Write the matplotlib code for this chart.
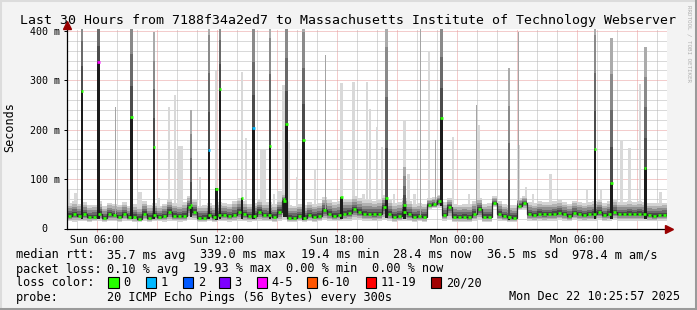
import numpy as np
import matplotlib
matplotlib.use("Agg")
import matplotlib.pyplot as plt
from matplotlib.patches import Rectangle

# ---------------- data ----------------
start_hour = 4.5          # Sun 04:30 (hours since Sun 00:00)
end_hour = 34.5
bin_hours = 0.25          # 15-minute bins

median_ms = [26, 29, 26, 29, 24, 24, 30, 22, 29, 27,
             24, 29, 23, 24, 20, 30, 22, 27, 23, 26,
             34, 26, 25, 26, 44, 34, 22, 22, 27, 23,
             27, 27, 25, 27, 34, 29, 25, 26, 34, 27,
             27, 24, 34, 55, 22, 22, 25, 22, 27, 24,
             26, 37, 30, 26, 27, 30, 32, 39, 34, 30,
             29, 29, 29, 44, 30, 24, 26, 34, 29, 24,
             25, 24, 47, 49, 55, 27, 44, 24, 24, 24,
             23, 30, 39, 24, 24, 51, 30, 25, 23, 22,
             46, 51, 29, 27, 30, 29, 29, 30, 32, 29,
             26, 32, 29, 27, 29, 30, 34, 27, 30, 34,
             29, 29, 30, 29, 30, 29, 27, 26, 27, 28]

smoke_lo_ms = [15, 14, 16, 15, 14, 15, 16, 14, 15, 15,
               14, 16, 15, 14, 13, 16, 14, 15, 15, 14,
               16, 15, 14, 15, 20, 17, 14, 14, 15, 14,
               15, 15, 14, 15, 16, 15, 14, 15, 16, 15,
               15, 14, 16, 20, 13, 13, 15, 14, 15, 14,
               15, 17, 16, 15, 15, 16, 16, 18, 17, 16,
               16, 15, 16, 18, 16, 14, 15, 16, 15, 14,
               15, 14, 40, 41, 42, 16, 20, 14, 14, 14,
               14, 16, 18, 14, 14, 44, 16, 15, 14, 14,
               38, 40, 16, 15, 16, 15, 16, 16, 17, 16,
               15, 17, 16, 15, 16, 16, 17, 15, 16, 17,
               16, 16, 16, 16, 16, 16, 15, 15, 16, 16]

smoke_hi_ms = [52, 56, 50, 54, 47, 48, 55, 45, 52, 50,
               48, 54, 46, 49, 44, 56, 47, 52, 46, 50,
               60, 52, 50, 54, 66, 60, 46, 47, 52, 48,
               53, 52, 50, 55, 62, 55, 50, 52, 60, 54,
               53, 49, 60, 72, 47, 46, 50, 47, 54, 50,
               52, 64, 58, 53, 56, 60, 60, 65, 62, 58,
               58, 56, 58, 68, 57, 52, 54, 62, 56, 50,
               52, 50, 62, 64, 68, 54, 62, 50, 48, 50,
               50, 56, 62, 50, 52, 66, 56, 50, 48, 47,
               62, 66, 54, 52, 55, 54, 54, 55, 57, 54,
               50, 56, 54, 52, 54, 55, 58, 52, 55, 58,
               54, 54, 55, 54, 55, 54, 52, 51, 52, 52]

# tall spikes: time (h), median (ms), highest ping (ms), loss bucket
spike_hours = [5.25, 6.07, 7.73, 8.85, 10.70, 11.60, 11.97, 12.15, 13.25, 13.82, 14.65,
               15.35, 15.48, 16.33, 18.23, 20.49, 21.37, 23.24, 26.60, 30.89, 31.73, 33.41]
spike_median_ms = [278, 337, 226, 165, 47, 158, 81, 283, 61, 204, 167,
                   60, 212, 179, 64, 62, 48, 224, 24, 160, 93, 123]
spike_top_ms = [480, 470, 480, 398, 239, 470, 81, 480, 61, 470, 460,
                60, 480, 470, 64, 470, 125, 470, 324, 470, 385, 368]
spike_loss = ["0", "4-5", "0", "0", "0", "1", "0", "0", "0", "1", "0",
              "0", "0", "0", "0", "0", "0", "0", "0", "0", "0", "0"]

# faint smoke spikes (single high pings)
light_hours = [4.60, 4.92, 8.15, 9.08, 9.60, 9.90, 10.15, 11.15, 11.95, 13.25, 13.45,
               14.30, 14.85, 15.10, 15.30, 15.60, 16.00, 16.90, 18.23, 18.82, 19.30,
               19.49, 19.65, 20.00, 20.25, 20.85, 21.37, 21.55, 21.87, 22.60, 23.80,
               24.60, 25.08, 27.05, 27.45, 27.80, 28.68, 30.50, 31.20, 32.20, 32.60,
               33.13, 34.15]
light_top_ms = [78, 72, 74, 61, 246, 270, 168, 104, 320, 317, 183,
                160, 70, 75, 290, 175, 104, 118, 294, 297, 70,
                297, 243, 206, 165, 70, 219, 110, 70, 357, 185,
                70, 209, 169, 84, 70, 111, 80, 78, 179, 163,
                293, 74]
light_width_h = [0.12, 0.12, 0.20, 0.12, 0.10, 0.08, 0.25, 0.10, 0.10, 0.12, 0.12,
                 0.30, 0.12, 0.25, 0.15, 0.12, 0.12, 0.12, 0.12, 0.12, 0.15,
                 0.12, 0.12, 0.10, 0.10, 0.12, 0.12, 0.15, 0.12, 0.12, 0.10,
                 0.12, 0.12, 0.15, 0.12, 0.12, 0.12, 0.12, 0.12, 0.15, 0.15,
                 0.10, 0.15]

# thin mid-grey spikes
thin_hours = [6.92, 17.40, 22.15, 22.90, 24.97, 27.05]
thin_top_ms = [246, 351, 440, 179, 250, 398]

xtick_hours = [6, 12, 18, 24, 30]
xtick_labels = ["Sun 06:00", "Sun 12:00", "Sun 18:00", "Mon 00:00", "Mon 06:00"]
ytick_ms = [0, 100, 200, 300, 400]
ytick_labels = ["0  ", "100 m", "200 m", "300 m", "400 m"]

loss_labels = ["0", "1", "2", "3", "4-5", "6-10", "11-19", "20/20"]
loss_colors = ["#26ff00", "#00b8ff", "#0059ff", "#7e00ff", "#ff00ff", "#ff5500", "#ff0000", "#a10000"]

title = "Last 30 Hours from 7188f34a2ed7 to Massachusetts Institute of Technology Webserver"
stat_rows = [
    [("median rtt:", 16), ("35.7 ms avg", 107), ("339.0 ms max", 200), ("19.4 ms min", 301),
     ("28.4 ms now", 393), ("36.5 ms sd", 487), ("978.4 m am/s", 572)],
    [("packet loss:", 16), ("0.10 % avg", 107), ("19.93 % max", 193), ("0.00 % min", 286),
     ("0.00 % now", 372)],
]
probe_text = "20 ICMP Echo Pings (56 Bytes) every 300s"
date_text = "Mon Dec 22 10:25:57 2025"

# ---------------- drawing ----------------
W, H, DPI = 697, 310, 100
MONO = "DejaVu Sans Mono"
BG = "#f3f3f3"

fig = plt.figure(figsize=(W / DPI, H / DPI), dpi=DPI, facecolor=BG)


def fx(px):
    return px / W


def fy(py):
    return 1 - py / H


ax_left, ax_right, ax_bot, ax_top = 67, 667, 228.5, 28.5
ax = fig.add_axes([fx(ax_left), fy(ax_bot), (ax_right - ax_left) / W, (ax_bot - ax_top) / H])
ax.set_facecolor("white")
ax.set_xlim(start_hour, end_hour)
ax.set_ylim(0, 405)

# grid
grid_grey = "#b4b4b4"
grid_red = "#e89a9a"
dots = (0, (1, 1))
for h in range(5, 35):
    c = grid_red if h % 3 == 0 else grid_grey
    ax.axvline(h, color=c, lw=0.72, ls=dots, zorder=1)
for v in range(20, 405, 20):
    c = grid_red if v % 100 == 0 else grid_grey
    ax.axhline(v, color=c, lw=0.72, ls=dots, zorder=1)

n = len(median_ms)
edges = start_hour + bin_hours * np.arange(n + 1)
med = np.array(median_ms, float)
lo = np.array(smoke_lo_ms, float)
hi = np.array(smoke_hi_ms, float)

# faint spikes
for t, top, w in zip(light_hours, light_top_ms, light_width_h):
    i = min(int((t - start_hour) / bin_hours), n - 1)
    ax.bar(t, top - lo[i], bottom=lo[i], width=w, color="#d9d9d9", lw=0, zorder=2)

# smoke layers around the median
fracs = [1.0, 0.78, 0.56, 0.36, 0.18]
shades = ["#d4d4d4", "#b2b2b2", "#8e8e8e", "#6a6a6a", "#484848"]
for f, c in zip(fracs, shades):
    bot = med - (med - lo) * f
    top = med + (hi - med) * f
    ax.bar(edges[:-1], top - bot, bottom=bot, width=bin_hours, align="edge",
           color=c, lw=0, zorder=3)

# thin grey spikes
for t, top in zip(thin_hours, thin_top_ms):
    i = min(int((t - start_hour) / bin_hours), n - 1)
    ax.bar(t, top - med[i], bottom=med[i], width=0.05, color="#a4a4a4", lw=0, zorder=3.5)

# median connectors + green median
ax.stairs(med, edges, baseline=None, color="#2a2a2a", lw=0.9, zorder=5)
ax.hlines(med, edges[:-1] + 0.035, edges[1:] - 0.035, colors=loss_colors[0], lw=1.9, zorder=7)

# tall spikes
grad = ["#4c4c4c", "#6a6a6a", "#8a8a8a", "#ababab"]
loss_map = dict(zip(loss_labels, loss_colors))
sw = 0.13
for t, m, top, loss in zip(spike_hours, spike_median_ms, spike_top_ms, spike_loss):
    i = min(int((t - start_hour) / bin_hours), n - 1)
    base = lo[i] + 4
    ax.bar(t, m - base, bottom=base, width=sw, color="#1c1c1c", lw=0, zorder=6)
    if top > m:
        seg = (top - m) / len(grad)
        for k, c in enumerate(grad):
            ax.bar(t, seg, bottom=m + k * seg, width=sw, color=c, lw=0, zorder=6)
    ax.hlines(m, t - sw / 2, t + sw / 2, colors=loss_map[loss], lw=1.9, zorder=8)

# axes styling
for s in ["top", "right"]:
    ax.spines[s].set_visible(False)
for s in ["left", "bottom"]:
    ax.spines[s].set_color("black")
    ax.spines[s].set_linewidth(0.9)
    ax.spines[s].set_zorder(9)

ax.set_xticks(xtick_hours)
ax.set_xticklabels(xtick_labels, family=MONO, fontsize=7.2)
ax.set_yticks(ytick_ms)
ax.set_yticklabels(ytick_labels, family=MONO, fontsize=7.2)
ax.tick_params(axis="x", length=2.2, width=0.7, color=grid_red, pad=2.2)
ax.tick_params(axis="y", length=2.0, width=0.7, color="black", pad=3.0)
for lab in ax.get_yticklabels():
    lab.set_verticalalignment("center_baseline")

# arrows
ax.plot([end_hour + 0.12], [0], marker=">", ms=5.5, color="#990000", clip_on=False, zorder=10)
ax.plot([start_hour], [405 + 7], marker="^", ms=5.5, color="#990000", clip_on=False, zorder=10)

# y label
fig.text(fx(10), fy(127), "Seconds", rotation=90, family=MONO, fontsize=8.5,
         ha="center", va="center")

# title
fig.text(0.5, fy(24), title, family=MONO, fontsize=9.5, ha="center", va="baseline")

# RRDTOOL credit
fig.text(fx(689), fy(5), "RRDTOOL / TOBI OETIKER", rotation=-90, family=MONO, fontsize=4.2,
         color="#b0b0b0", ha="center", va="top")

# legend
row_base = [258.5, 272.5, 286.5, 300.5]
for row, yb in zip(stat_rows, row_base):
    for txt, x in row:
        fig.text(fx(x), fy(yb), txt, family=MONO, fontsize=8.55, va="baseline", ha="left")

fig.text(fx(16), fy(row_base[2]), "loss color:", family=MONO, fontsize=8.55, va="baseline")
box_x = [108, 145.7, 182.7, 219.3, 256.7, 306.7, 365.7, 430.7]
for bx, lab, col in zip(box_x, loss_labels, loss_colors):
    fig.patches.append(Rectangle((fx(bx), fy(287.5)), 10.5 / W, 10.5 / H, transform=fig.transFigure,
                                 facecolor=col, edgecolor="black", lw=0.8))
    fig.text(fx(bx + 15), fy(row_base[2]), lab, family=MONO, fontsize=8.55, va="baseline")

fig.text(fx(16), fy(row_base[3]), "probe:", family=MONO, fontsize=8.55, va="baseline")
fig.text(fx(107), fy(row_base[3]), probe_text, family=MONO, fontsize=8.55, va="baseline")
fig.text(fx(680), fy(row_base[3]), date_text, family=MONO, fontsize=8.55, va="baseline", ha="right")

# 3D frame
fig.add_artist(plt.Line2D([0, 1], [fy(0.5), fy(0.5)], transform=fig.transFigure, color="#dcdcdc", lw=1.5))
fig.add_artist(plt.Line2D([fx(0.5), fx(0.5)], [0, 1], transform=fig.transFigure, color="#dcdcdc", lw=1.5))
fig.add_artist(plt.Line2D([0, 1], [fy(H - 1.5), fy(H - 1.5)], transform=fig.transFigure, color="#9a9a9a", lw=2.2))
fig.add_artist(plt.Line2D([fx(W - 1.5), fx(W - 1.5)], [0, 1], transform=fig.transFigure, color="#9a9a9a", lw=2.2))

fig.savefig("out.png", dpi=DPI, facecolor=BG)
